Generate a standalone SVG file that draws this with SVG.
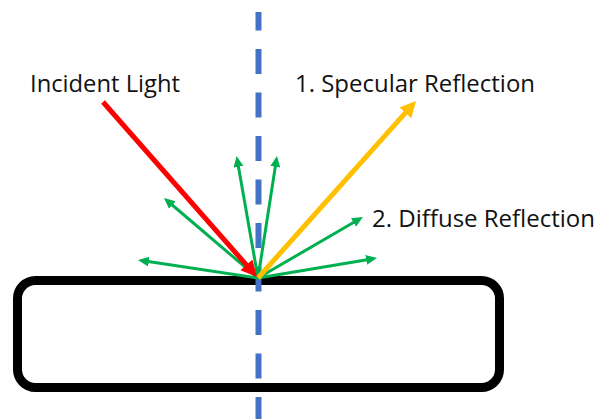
<svg xmlns="http://www.w3.org/2000/svg" width="598" height="419" viewBox="0 0 598 419">
<style>
text{font-family:"Open Sans","Noto Sans","Liberation Sans",sans-serif;font-size:24px;fill:#111}
.g{stroke:#00B050;stroke-width:3;fill:none;marker-end:url(#mg)}
</style>
<defs>
<marker id="mr" markerUnits="userSpaceOnUse" markerWidth="17" markerHeight="17" refX="5" refY="8" orient="auto"><path d="M0,0 L16,8 L0,16 z" fill="#FF0000"/></marker>
<marker id="my" markerUnits="userSpaceOnUse" markerWidth="17" markerHeight="17" refX="5" refY="8" orient="auto"><path d="M0,0 L16,8 L0,16 z" fill="#FFC000"/></marker>
<marker id="mg" markerUnits="userSpaceOnUse" markerWidth="12" markerHeight="11" refX="4" refY="5" orient="auto"><path d="M0,0 L11,5 L0,10 z" fill="#00B050"/></marker>
</defs>
<rect width="598" height="419" fill="#fff"/>
<g id="surface"><rect x="17.5" y="280.5" width="482" height="107" rx="18" fill="none" stroke="#000" stroke-width="9"/></g>
<g id="normal"><line x1="258.5" y1="12" x2="258.5" y2="419" stroke="#4472C4" stroke-width="6" stroke-dasharray="25 18.5" stroke-dashoffset="6.5"/></g>
<g id="connectors">
<line class="g" x1="258" y1="278" x2="237.8" y2="162.9"/>
<line class="g" x1="258" y1="278" x2="275.9" y2="162.9"/>
<line class="g" x1="258" y1="278" x2="169.3" y2="202.5"/>
<line class="g" x1="258" y1="278" x2="144.9" y2="261"/>
<line class="g" x1="258" y1="278" x2="356.9" y2="220.5"/>
<line class="g" x1="258" y1="278" x2="370.1" y2="259.2"/>
<line x1="258" y1="278" x2="408.7" y2="109.2" stroke="#FFC000" stroke-width="5" marker-end="url(#my)"/>
<line x1="103" y1="102" x2="249.7" y2="268.7" stroke="#FF0000" stroke-width="5" marker-end="url(#mr)"/>
</g>
<g id="label-incident"><text x="30" y="92" textLength="150" lengthAdjust="spacingAndGlyphs">Incident Light</text></g>
<g id="label-specular"><text x="295" y="92" textLength="240" lengthAdjust="spacingAndGlyphs">1. Specular Reflection</text></g>
<g id="label-diffuse"><text x="372" y="227" textLength="223" lengthAdjust="spacingAndGlyphs">2. Diffuse Reflection</text></g>
</svg>
